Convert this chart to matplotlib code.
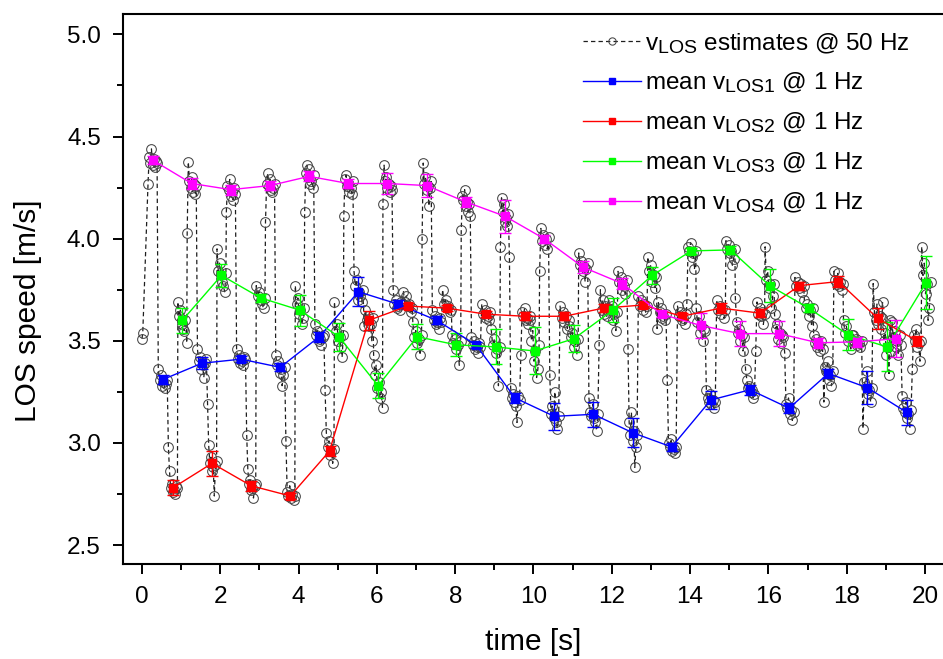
import numpy as np
import matplotlib
matplotlib.use("Agg")
import matplotlib.pyplot as plt
import matplotlib._mathtext as _mt
from matplotlib.ticker import MultipleLocator, FormatStrFormatter

plt.rcParams['font.family'] = ['Liberation Sans', 'DejaVu Sans']
plt.rcParams['mathtext.fontset'] = 'custom'
plt.rcParams['mathtext.rm'] = 'Liberation Sans'
plt.rcParams['mathtext.default'] = 'regular'
_mt.SHRINK_FACTOR = 0.8   # slightly larger subscripts, as in the original

# ---------------- data ----------------
seconds = np.arange(20)
# acquisition phase of each sensor within every second (s)
phase_los4 = 0.27
phase_los1 = 0.53
phase_los2 = 0.79
phase_los3 = 1.03

mean_los1 = [3.31, 3.39, 3.41, 3.37, 3.52, 3.74, 3.68, 3.60, 3.48, 3.22,
             3.13, 3.14, 3.05, 2.98, 3.21, 3.26, 3.17, 3.34, 3.27, 3.15]
err_los1 = [0.02, 0.03, 0.015, 0.02, 0.025, 0.07, 0.02, 0.02, 0.015, 0.025,
            0.065, 0.06, 0.07, 0.02, 0.045, 0.025, 0.025, 0.02, 0.08, 0.06]
mean_los2 = [2.78, 2.90, 2.79, 2.74, 2.96, 3.60, 3.67, 3.66, 3.63, 3.62,
             3.62, 3.66, 3.675, 3.62, 3.66, 3.635, 3.77, 3.79, 3.61, 3.50]
err_los2 = [0.037, 0.06, 0.025, 0.015, 0.025, 0.047, 0.015, 0.015, 0.015, 0.02,
            0.02, 0.02, 0.015, 0.015, 0.025, 0.02, 0.02, 0.025, 0.05, 0.025]
mean_los3 = [3.60, 3.82, 3.71, 3.65, 3.52, 3.28, 3.52, 3.48, 3.47, 3.45,
             3.51, 3.65, 3.82, 3.94, 3.945, 3.77, 3.66, 3.53, 3.47, 3.785]
err_los3 = [0.06, 0.057, 0.02, 0.076, 0.068, 0.06, 0.06, 0.057, 0.086, 0.115,
            0.065, 0.057, 0.04, 0.015, 0.02, 0.08, 0.02, 0.075, 0.12, 0.13]
mean_los4 = [4.385, 4.27, 4.24, 4.26, 4.305, 4.27, 4.27, 4.26, 4.18, 4.11,
             4.00, 3.86, 3.78, 3.63, 3.575, 3.535, 3.535, 3.49, 3.495, 3.51]
err_los4 = [0.02, 0.025, 0.025, 0.02, 0.025, 0.02, 0.05, 0.055, 0.025, 0.08,
            0.02, 0.03, 0.025, 0.015, 0.06, 0.06, 0.06, 0.025, 0.025, 0.09]

# 50 Hz estimates, grouped per sensor and per second (acquisition order)
lead_in = [3.51, 3.54]
raw_los4 = [
    [4.27, 4.40, 4.37, 4.44, 4.36, 4.39, 4.35, 4.38, 4.37],
    [4.03, 4.375, 4.28, 4.25, 4.30, 4.23, 4.27, 4.22, 4.26],
    [4.13, 4.26, 4.24, 4.29, 4.21, 4.23, 4.19, 4.25, 4.22],
    [4.08, 4.27, 4.32, 4.26, 4.29, 4.24, 4.23, 4.25, 4.27],
    [4.13, 4.32, 4.36, 4.30, 4.34, 4.27, 4.28, 4.25, 4.31],
    [4.11, 4.29, 4.31, 4.26, 4.27, 4.23, 4.25, 4.22, 4.28],
    [4.17, 4.36, 4.28, 4.30, 4.25, 4.27, 4.23, 4.26, 4.24],
    [4.00, 4.37, 4.27, 4.30, 4.24, 4.26, 4.16, 4.25, 4.28],
    [4.04, 4.21, 4.19, 4.24, 4.16, 4.18, 4.13, 4.17, 4.11],
    [3.96, 4.20, 4.13, 4.17, 4.08, 4.10, 4.06, 4.12, 3.91],
    [3.84, 4.05, 3.99, 4.02, 3.97, 4.00, 3.95, 4.01],
    [3.93, 3.87, 3.89, 3.84, 3.86, 3.79, 3.85, 3.88],
    [3.84, 3.79, 3.81, 3.75, 3.77, 3.73, 3.80],
    [3.56, 3.69, 3.64, 3.66, 3.61, 3.62, 3.60, 3.63],
    [3.66, 3.59, 3.62, 3.54, 3.57, 3.50, 3.56, 3.55],
    [3.71, 3.59, 3.54, 3.56, 3.50, 3.53, 3.45, 3.52],
    [3.63, 3.56, 3.58, 3.51, 3.54, 3.49, 3.53, 3.52],
    [3.53, 3.49, 3.51, 3.47, 3.48, 3.45, 3.50, 3.46],
    [3.53, 3.50, 3.51, 3.48, 3.49, 3.47, 3.50],
    [3.59, 3.52, 3.55, 3.47, 3.50, 3.43, 3.53, 3.48],
]
raw_los1 = [
    [3.36, 3.31, 3.33, 3.28, 3.30, 3.27, 3.29, 3.31],
    [3.46, 3.40, 3.42, 3.36, 3.38, 3.32, 3.39, 3.41],
    [3.46, 3.41, 3.43, 3.39, 3.40, 3.38, 3.42, 3.41],
    [3.43, 3.38, 3.40, 3.34, 3.36, 3.28, 3.33, 3.37],
    [3.58, 3.53, 3.55, 3.50, 3.51, 3.48, 3.52, 3.53],
    [3.84, 3.77, 3.80, 3.70, 3.74, 3.72, 3.69, 3.75],
    [3.75, 3.68, 3.70, 3.66, 3.67, 3.65, 3.69, 3.68],
    [3.65, 3.60, 3.62, 3.58, 3.59, 3.56, 3.61, 3.59],
    [3.52, 3.48, 3.50, 3.46, 3.47, 3.44, 3.49, 3.47],
    [3.27, 3.22, 3.24, 3.20, 3.18, 3.10, 3.23, 3.21],
    [3.33, 3.14, 3.18, 3.12, 3.25, 3.10, 3.07, 3.13],
    [3.22, 3.15, 3.13, 3.19, 3.12, 3.10, 3.06, 3.14],
    [3.46, 3.10, 3.04, 3.15, 3.01, 3.06, 2.88, 2.98, 3.04],
    [3.31, 3.00, 2.98, 3.02, 2.96, 2.97, 2.95, 2.98],
    [3.26, 3.22, 3.20, 3.24, 3.19, 3.21, 3.17, 3.20],
    [3.36, 3.31, 3.27, 3.28, 3.25, 3.26, 3.22, 3.24],
    [3.44, 3.19, 3.17, 3.22, 3.14, 3.16, 3.11, 3.15],
    [3.20, 3.37, 3.35, 3.40, 3.31, 3.33, 3.28, 3.35],
    [3.07, 3.30, 3.28, 3.35, 3.24, 3.26, 3.20, 3.27],
    [3.23, 3.17, 3.15, 3.20, 3.12, 3.14, 3.07, 3.16],
]
raw_los2 = [
    [2.98, 2.86, 2.78, 2.80, 2.76, 2.77, 2.75, 2.79, 2.78],
    [3.19, 2.99, 2.90, 2.93, 2.86, 2.88, 2.74, 2.89, 2.91],
    [3.04, 2.87, 2.80, 2.82, 2.77, 2.78, 2.73, 2.79, 2.80],
    [3.01, 2.76, 2.74, 2.79, 2.73, 2.75, 2.72, 2.74],
    [3.26, 3.05, 2.98, 3.01, 2.94, 2.96, 2.90, 2.97],
    [3.57, 3.65, 3.60, 3.62, 3.57, 3.58, 3.50, 3.61],
    [3.74, 3.69, 3.72, 3.67, 3.68, 3.64, 3.66],
    [3.75, 3.68, 3.70, 3.66, 3.67, 3.64, 3.65],
    [3.68, 3.63, 3.65, 3.61, 3.62, 3.60, 3.64],
    [3.43, 3.64, 3.62, 3.66, 3.60, 3.61, 3.58, 3.62],
    [3.67, 3.61, 3.64, 3.59, 3.62, 3.56, 3.60],
    [3.48, 3.75, 3.65, 3.70, 3.63, 3.67, 3.62, 3.66],
    [3.72, 3.67, 3.70, 3.65, 3.68, 3.64, 3.67],
    [3.67, 3.62, 3.64, 3.60, 3.61, 3.58, 3.63],
    [3.70, 3.65, 3.67, 3.63, 3.66, 3.61, 3.65],
    [3.45, 3.69, 3.63, 3.66, 3.62, 3.64, 3.58, 3.63],
    [3.81, 3.77, 3.79, 3.76, 3.78, 3.74, 3.77],
    [3.84, 3.80, 3.78, 3.83, 3.77, 3.79, 3.75, 3.78],
    [3.78, 3.64, 3.60, 3.68, 3.58, 3.62, 3.56, 3.61],
    [3.36, 3.53, 3.50, 3.56, 3.47, 3.49, 3.40, 3.50],
]
raw_los3 = [
    [3.69, 3.62, 3.65, 3.58, 3.56, 3.55, 3.60, 3.49],
    [3.95, 3.84, 3.88, 3.82, 3.79, 3.77, 3.74, 3.83],
    [3.77, 3.72, 3.74, 3.70, 3.68, 3.66, 3.71],
    [3.77, 3.68, 3.71, 3.63, 3.65, 3.58, 3.61, 3.66],
    [3.69, 3.55, 3.58, 3.50, 3.52, 3.47, 3.42, 3.53],
    [3.43, 3.33, 3.38, 3.27, 3.30, 3.22, 3.25, 3.17],
    [3.59, 3.52, 3.55, 3.49, 3.51, 3.43, 3.53],
    [3.53, 3.49, 3.51, 3.46, 3.48, 3.38, 3.50],
    [3.56, 3.48, 3.51, 3.44, 3.46, 3.28, 3.47],
    [3.60, 3.50, 3.55, 3.40, 3.45, 3.32, 3.36, 3.48],
    [3.57, 3.52, 3.54, 3.47, 3.50, 3.43, 3.51],
    [3.70, 3.65, 3.67, 3.60, 3.63, 3.55, 3.64],
    [3.91, 3.84, 3.87, 3.79, 3.82, 3.76, 3.81],
    [3.68, 3.96, 3.94, 3.98, 3.91, 3.93, 3.85, 3.94],
    [3.99, 3.95, 3.97, 3.93, 3.94, 3.87, 3.90, 3.95],
    [3.96, 3.80, 3.84, 3.76, 3.78, 3.66, 3.72, 3.78],
    [3.70, 3.66, 3.68, 3.62, 3.65, 3.57, 3.66],
    [3.60, 3.54, 3.57, 3.50, 3.52, 3.46, 3.53],
    [3.69, 3.50, 3.54, 3.43, 3.47, 3.33, 3.60, 3.45],
    [3.96, 3.82, 3.88, 3.73, 3.78, 3.60, 3.66, 3.79],
]

# ---------------- build 50 Hz time series ----------------
slot = 0.26
t50 = list(np.arange(len(lead_in)) * 0.02)
v50 = list(lead_in)
for k in seconds:
    for raw, ph in ((raw_los4, phase_los4), (raw_los1, phase_los1),
                    (raw_los2, phase_los2), (raw_los3, phase_los3)):
        vals = raw[k]
        n = len(vals)
        c = k + ph
        t50.extend(c - slot / 2 + (np.arange(n) + 0.5) * slot / n)
        v50.extend(vals)

# ---------------- figure ----------------
fig = plt.figure(figsize=(9.43, 6.59), dpi=100)
ax = fig.add_axes([123 / 943, 1 - 564 / 659, 820 / 943, 550 / 659])

est, = ax.plot(t50, v50, linestyle=(0, (3.5, 2.5)), color='#1e1e1e', lw=0.9,
               marker='o', ms=7, mfc='none', mec='#454545', mew=0.75,
               zorder=2, label=r'$v_{LOS}$ estimates @ 50 Hz')

series = [
    (mean_los1, err_los1, phase_los1, '#0000ff', r'mean $v_{LOS1}$ @ 1 Hz'),
    (mean_los2, err_los2, phase_los2, '#ff0000', r'mean $v_{LOS2}$ @ 1 Hz'),
    (mean_los3, err_los3, phase_los3, '#00ff00', r'mean $v_{LOS3}$ @ 1 Hz'),
    (mean_los4, err_los4, phase_los4, '#ff00ff', r'mean $v_{LOS4}$ @ 1 Hz'),
]
handles = [est]
for mean, err, ph, col, lab in series:
    tt = seconds + ph
    ax.errorbar(tt, mean, yerr=err, fmt='none', ecolor=col, elinewidth=1.0,
                capsize=4.5, capthick=1.0, zorder=3)
    h, = ax.plot(tt, mean, color=col, lw=1.0, marker='s', ms=6.3,
                 mfc=col, mec=col, zorder=4, label=lab)
    handles.append(h)

ax.set_xlim(-0.485, 20.46)
ax.set_ylim(2.407, 5.10)
ax.xaxis.set_major_locator(MultipleLocator(2))
ax.xaxis.set_minor_locator(MultipleLocator(1))
ax.yaxis.set_major_locator(MultipleLocator(0.5))
ax.yaxis.set_minor_locator(MultipleLocator(0.25))
ax.yaxis.set_major_formatter(FormatStrFormatter('%.1f'))
ax.tick_params(which='major', direction='out', length=7, width=1.4,
               labelsize=17.5, top=False, right=False)
ax.tick_params(axis='x', which='major', pad=9)
ax.tick_params(axis='y', which='major', pad=9)
ax.tick_params(which='minor', direction='out', length=4, width=1.4,
               top=False, right=False)
for side in ('left', 'bottom', 'top'):
    ax.spines[side].set_linewidth(1.5)
ax.spines['right'].set_visible(False)

ax.set_xlabel('time [s]', fontsize=21.5, labelpad=14)
ax.set_ylabel('LOS speed [m/s]', fontsize=21.5)
ax.yaxis.set_label_coords(-0.099, 0.46)

fig.legend(handles=handles, loc='upper left',
           bbox_to_anchor=(573 / 943, 1 - 21 / 659), frameon=False,
           fontsize=17.5, handlelength=2.4, handletextpad=0.15,
           labelspacing=0.62, markerscale=0.75, borderaxespad=0)

fig.savefig('out.png', dpi=100)
